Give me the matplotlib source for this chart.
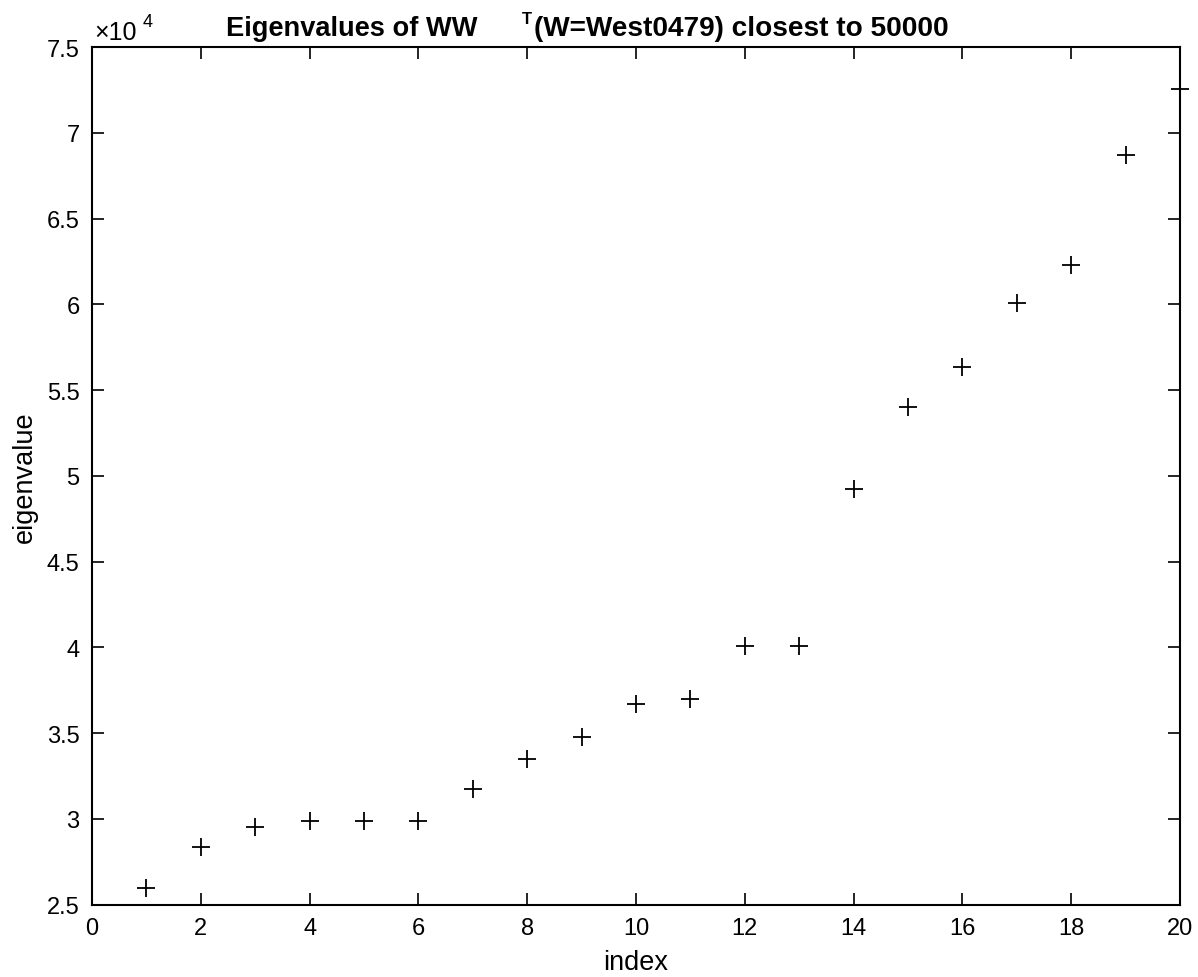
import numpy as np
import matplotlib
matplotlib.use("Agg")
import matplotlib.pyplot as plt
from matplotlib.ticker import FuncFormatter, MultipleLocator

plt.rcParams['font.family'] = ['Liberation Sans', 'DejaVu Sans']

# eigenvalues
index = np.arange(1, 21)
eigvals = np.array([25950, 28380, 29530, 29880, 29880, 29880, 31760, 33480,
                    34780, 36680, 37010, 40070, 40060, 49220, 53990, 56330,
                    60060, 62280, 68730, 72580])

fig = plt.figure(figsize=(11.98, 9.78), dpi=100)
ax = fig.add_axes([0.0768, 0.0741, 0.9082, 0.8768])

ax.plot(index, eigvals, '+', color='black', markersize=13, markeredgewidth=1.3,
        clip_on=False, zorder=5)

ax.set_xlim(0, 20)
ax.set_ylim(25000, 75000)
ax.xaxis.set_major_locator(MultipleLocator(2))
ax.yaxis.set_major_locator(MultipleLocator(5000))
ax.yaxis.set_major_formatter(FuncFormatter(lambda v, p: f"{v/1e4:g}"))

ax.tick_params(direction='in', length=8.5, width=1.2, labelsize=17,
               top=True, right=True, pad=9)
for s in ax.spines.values():
    s.set_linewidth(1.5)

ax.set_xlabel("index", fontsize=19.5, labelpad=7)
ax.set_ylabel("eigenvalue", fontsize=19.5, labelpad=6)

# exponent label, MATLAB style
fig.text(94/1198, 1 - 40/978, "×10", fontsize=18, ha='left', va='baseline')
fig.text(143/1198, 1 - 27/978, "4", fontsize=13, ha='left', va='baseline')

# title with the odd gap before the superscript
fig.text(226/1198, 1 - 36/978, "Eigenvalues of WW", fontsize=19.6,
         fontweight='bold', ha='left', va='baseline')
fig.text(522/1198, 1 - 24/978, "T", fontsize=12, fontweight='bold',
         ha='left', va='baseline')
fig.text(949/1198, 1 - 36/978, "(W=West0479) closest to 50000", fontsize=20.2,
         fontweight='bold', ha='right', va='baseline')

plt.savefig("out.png", dpi=100)
plt.close()
